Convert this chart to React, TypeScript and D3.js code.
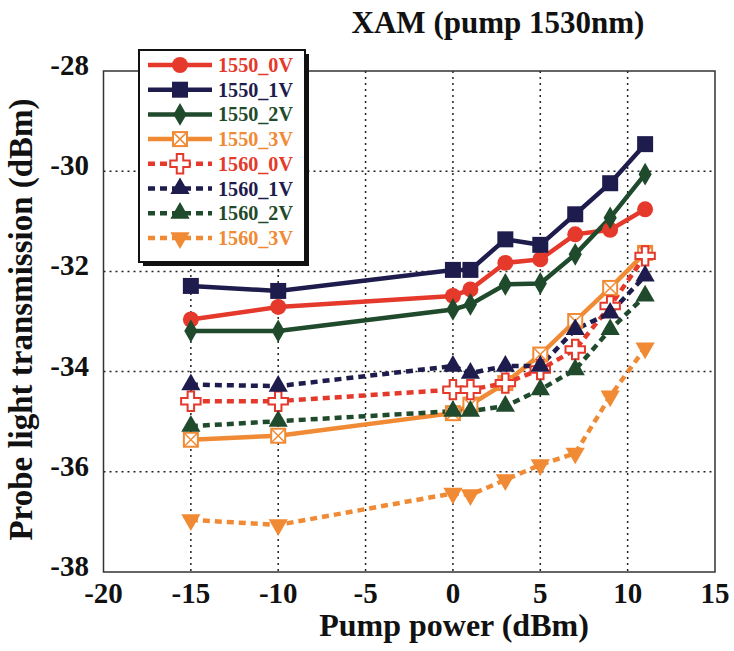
import React from 'react';
import * as d3 from 'd3';

const pumpPower = [-15, -10, 0, 1, 3, 5, 7, 9, 11];

const s1550_0V = [-32.96, -32.71, -32.49, -32.36, -31.83, -31.76, -31.26, -31.17, -30.76];
const s1550_1V = [-32.29, -32.39, -31.97, -31.97, -31.36, -31.47, -30.86, -30.24, -29.46];
const s1550_2V = [-33.19, -33.19, -32.76, -32.66, -32.26, -32.24, -31.66, -30.93, -30.06];
const s1550_3V = [-35.36, -35.28, -34.83, -34.66, -34.23, -33.66, -32.99, -32.33, -31.63];
const s1560_0V = [-34.59, -34.59, -34.36, -34.36, -34.23, -33.96, -33.56, -32.69, -31.69];
const s1560_1V = [-34.26, -34.29, -33.89, -34.03, -33.89, -33.89, -33.16, -32.83, -32.09];
const s1560_2V = [-35.09, -34.99, -34.79, -34.79, -34.69, -34.36, -33.96, -33.16, -32.49];
const s1560_3V = [-36.96, -37.06, -36.43, -36.46, -36.16, -35.86, -35.63, -34.49, -33.53];

const seriesNames = ['1550_0V', '1550_1V', '1550_2V', '1550_3V', '1560_0V', '1560_1V', '1560_2V', '1560_3V'];
const seriesValues = [s1550_0V, s1550_1V, s1550_2V, s1550_3V, s1560_0V, s1560_1V, s1560_2V, s1560_3V];

const xTicks = [-20, -15, -10, -5, 0, 5, 10, 15];
const yTicks = [-28, -30, -32, -34, -36, -38];

const RED = '#e4392b';
const NAVY = '#1e1c4c';
const GREEN = '#1f4a2b';
const ORANGE = '#f08a34';

const styles = [
  { color: RED, dash: null, marker: 'circle' },
  { color: NAVY, dash: null, marker: 'square' },
  { color: GREEN, dash: null, marker: 'diamond' },
  { color: ORANGE, dash: null, marker: 'xsquare' },
  { color: RED, dash: '7,5', marker: 'cross' },
  { color: NAVY, dash: '7,5', marker: 'triangle' },
  { color: GREEN, dash: '7,5', marker: 'triangle' },
  { color: ORANGE, dash: '7,5', marker: 'tridown' },
];

const FONT = '"Liberation Serif", "Times New Roman", serif';

const Marker = ({ type, color, x, y }: { type: string; color: string; x: number; y: number }) => {
  const t = `translate(${x},${y})`;
  if (type === 'circle') return <path transform={t} d={d3.symbol(d3.symbolCircle, 200)()!} fill={color} />;
  if (type === 'square') return <path transform={t} d={d3.symbol(d3.symbolSquare, 256)()!} fill={color} />;
  if (type === 'diamond') return <path transform={t} d={d3.symbol(d3.symbolDiamond, 150)()!} fill={color} />;
  if (type === 'triangle') return <path transform={t} d={d3.symbol(d3.symbolTriangle, 160)()!} fill={color} />;
  if (type === 'tridown') return <path transform={`${t} rotate(180)`} d={d3.symbol(d3.symbolTriangle, 160)()!} fill={color} />;
  if (type === 'cross')
    return <path transform={t} d={d3.symbol(d3.symbolCross, 210)()!} fill="#fff" stroke={color} strokeWidth={2} />;
  // crossed hollow square
  return (
    <g transform={t}>
      <rect x={-7} y={-7} width={14} height={14} fill="#fff" stroke={color} strokeWidth={2} />
      <path d="M-7,-7L7,7M7,-7L-7,7" stroke={color} strokeWidth={1.5} />
    </g>
  );
};

const App = () => {
  const width = 734;
  const height = 651;
  const x = d3.scaleLinear().domain([-20, 15]).range([103.5, 715]);
  const y = d3.scaleLinear().domain([-38, -28]).range([572, 71]);

  const line = d3
    .line<number>()
    .x((_, i) => x(pumpPower[i]))
    .y((d) => y(d));

  const legendX = 139;
  const legendTop = 50;
  const rowH = 24.7;

  return (
    <svg width={width} height={height} style={{ position: 'absolute', left: 0, top: 0, background: '#fff' }}>
      {/* grid */}
      {xTicks.slice(1, -1).map((t) => (
        <line key={'gx' + t} x1={x(t)} x2={x(t)} y1={y(-28)} y2={y(-38)} stroke="#222" strokeWidth={1.5} strokeDasharray="2,4" />
      ))}
      {yTicks.slice(1, -1).map((t) => (
        <line key={'gy' + t} x1={x(-20)} x2={x(15)} y1={y(t)} y2={y(t)} stroke="#222" strokeWidth={1.5} strokeDasharray="2,4" />
      ))}
      <rect x={x(-20)} y={y(-28)} width={x(15) - x(-20)} height={y(-38) - y(-28)} fill="none" stroke="#333" strokeWidth={1.5} />

      {/* series */}
      {seriesValues.map((vals, si) => (
        <path
          key={'l' + si}
          d={line(vals)!}
          fill="none"
          stroke={styles[si].color}
          strokeWidth={4.5}
          strokeDasharray={styles[si].dash ?? undefined}
        />
      ))}
      {seriesValues.map((vals, si) =>
        vals.map((v, i) => (
          <Marker key={`m${si}-${i}`} type={styles[si].marker} color={styles[si].color} x={x(pumpPower[i])} y={y(v)} />
        ))
      )}

      {/* axis labels */}
      {xTicks.map((t) => (
        <text key={'xt' + t} x={x(t)} y={603} textAnchor="middle" fontFamily={FONT} fontWeight="bold" fontSize={29} fill="#111">
          {t}
        </text>
      ))}
      {yTicks.map((t) => (
        <text key={'yt' + t} x={89} y={y(t) + 4} textAnchor="end" fontFamily={FONT} fontWeight="bold" fontSize={29} fill="#111">
          {t}
        </text>
      ))}
      <text x={454} y={636} textAnchor="middle" fontFamily={FONT} fontWeight="bold" fontSize={32} fill="#111">
        Pump power (dBm)
      </text>
      <text
        transform={`translate(32,${(y(-28) + y(-38)) / 2 - 2}) rotate(-90)`}
        textAnchor="middle"
        fontFamily={FONT}
        fontWeight="bold"
        fontSize={33}
        fill="#111"
      >
        Probe light transmission (dBm)
      </text>
      <text x={498} y={33} textAnchor="middle" fontFamily={FONT} fontWeight="bold" fontSize={31} fill="#111">
        XAM (pump 1530nm)
      </text>

      {/* legend */}
      <rect x={legendX + 4} y={legendTop + 4} width={166} height={212} fill="#111" />
      <rect x={legendX} y={legendTop} width={166} height={212} fill="#fff" stroke="#111" strokeWidth={2} />
      {seriesNames.map((name, si) => {
        const ry = legendTop + 15 + si * rowH;
        return (
          <g key={'lg' + si}>
            <line x1={legendX + 9} x2={legendX + 73} y1={ry} y2={ry} stroke={styles[si].color} strokeWidth={4.5} strokeDasharray={styles[si].dash ?? undefined} />
            <Marker type={styles[si].marker} color={styles[si].color} x={legendX + 41} y={ry} />
            <text
              x={legendX + 79}
              y={ry + 7}
              fontFamily={FONT}
              fontWeight="bold"
              fontSize={21}
              fill={styles[si].color}
              textLength={75}
              lengthAdjust="spacingAndGlyphs"
            >
              {name}
            </text>
          </g>
        );
      })}
    </svg>
  );
};

export default App;
